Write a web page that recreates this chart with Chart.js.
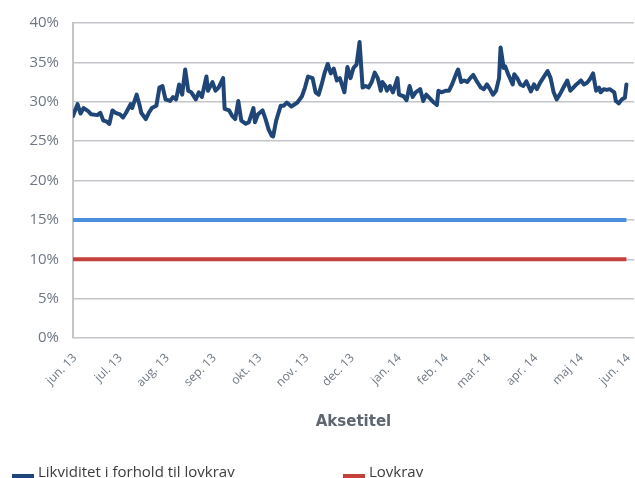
<!DOCTYPE html>
<html>
<head>
<meta charset="utf-8">
<script src="https://cdn.jsdelivr.net/npm/chart.js@4/dist/chart.umd.min.js"></script>
<style>
  html, body { margin: 0; padding: 0; background: #fff; overflow: hidden; }
  #wrap { position: relative; width: 635px; height: 478px; }
  #legend { position: absolute; left: 0; top: 461px; width: 635px; height: 20px; }
  .lg-item { position: absolute; top: 0; height: 20px; font-family: "Open Sans", sans-serif;
             font-size: 15px; line-height: 20px; color: #3d3d3d; white-space: nowrap; }
  .lg-mark { position: absolute; left: 0; top: 13px; width: 22px; height: 4px; }
  .lg-text { position: absolute; left: 26px; top: 0; }
</style>
</head>
<body>
<div id="wrap">
  <canvas id="c" width="635" height="478"></canvas>
  <div id="legend"></div>
</div>
<script>
// ---- data ----
const seriesNames = ['Likviditet i forhold til lovkrav', 'Lovkrav', 'Intern grænse'];
const monthLabels = ['jun. 13','jul. 13','aug. 13','sep. 13','okt. 13','nov. 13','dec. 13',
                     'jan. 14','feb. 14','mar. 14','apr. 14','maj 14','jun. 14'];
const monthTickDays = [0,30,61,92,122,153,183,214,245,273,304,334,365];
// days since 1 June 2013
const dayOffsets = [0,3,5,7,10,12,16,18,20,22,24,26,28,31,33,35,38,39,42,44,45,48,50,52,55,57,59,61,64,66,
  68,70,72,74,76,78,81,83,85,88,89,92,94,96,99,100,103,105,107,109,111,114,116,119,120,122,125,127,129,131,
  132,134,137,139,141,144,148,151,153,155,158,160,162,164,166,168,
  170,172,174,176,179,181,183,185,187,189,191,193,195,197,199,201,203,204,206,207,209,211,214,215,218,220,
  222,224,226,229,231,233,236,238,240,241,243,246,248,250,253,254,256,258,260,262,264,266,269,271,273,275,
  277,279,281,282,284,285,287,290,291,293,295,297,299,302,304,306,308,310,313,315,317,319,321,324,326,328,
  330,332,335,337,339,341,343,345,347,348,350,352,354,357,358,360,362,364,365];
const liquidityPct = [28.2,29.7,28.5,29.2,28.8,28.4,28.3,28.6,27.6,27.5,27.2,28.9,28.6,28.4,28.0,28.6,29.7,29.2,
  30.9,29.5,28.6,27.8,28.6,29.2,29.5,31.8,32.0,30.3,30.1,30.6,30.3,32.2,30.9,34.1,31.4,31.2,30.3,31.2,30.6,33.2,
  31.4,32.5,31.4,31.8,33.0,29.1,28.9,28.2,27.8,30.1,27.6,27.2,27.4,29.2,27.4,28.4,28.9,27.8,26.5,25.7,25.6,27.6,
  29.5,29.5,29.9,29.4,29.9,30.7,31.8,33.2,33.0,31.2,30.9,32.2,33.7,34.8,
  33.6,34.2,32.7,33.0,31.2,34.4,33.0,34.3,34.7,37.6,31.8,32.0,31.8,32.5,33.7,33.0,31.4,32.5,32.0,31.4,
  32.0,31.2,33.0,30.9,30.7,30.2,32.0,30.6,31.2,31.6,30.1,30.9,30.3,29.9,29.6,31.4,31.2,31.4,31.4,32.2,
  33.7,34.1,32.5,32.7,32.5,33.0,33.4,32.7,31.8,31.6,32.2,31.6,30.9,31.4,33.0,36.9,34.3,34.5,33.5,32.2,
  33.5,33.0,32.2,32.0,32.6,31.3,32.2,31.6,32.4,33.0,33.9,33.0,31.2,30.3,30.9,32.0,32.7,31.4,31.8,32.2,
  32.7,32.2,32.4,32.9,33.6,31.4,31.8,31.2,31.6,31.5,31.6,31.2,30.1,29.8,30.3,30.5,32.2];
const lovkravPct = [10, 10];
const internPct = [15, 15];
const yTicks = [0,5,10,15,20,25,30,35,40];
const legendSeries = [0, 1];

// ---- build chart ----
const colors = ['#1f4677', '#c4413c', '#4a8fdb'];
const ends = [dayOffsets[0], dayOffsets[dayOffsets.length - 1]];

const htmlLegend = {
  id: 'htmlLegend',
  afterUpdate(chart) {
    const box = document.getElementById('legend');
    box.innerHTML = '';
    const lefts = [12, 343];
    legendSeries.forEach((di, k) => {
      const ds = chart.data.datasets[di];
      const item = document.createElement('div');
      item.className = 'lg-item';
      item.style.left = lefts[k] + 'px';
      const m = document.createElement('span');
      m.className = 'lg-mark';
      m.style.background = ds.borderColor;
      const t = document.createElement('span');
      t.className = 'lg-text';
      t.textContent = ds.label;
      item.appendChild(m); item.appendChild(t);
      box.appendChild(item);
    });
  }
};

new Chart(document.getElementById('c'), {
  type: 'line',
  data: {
    datasets: [
      { label: seriesNames[0], data: dayOffsets.map((d, i) => ({x: d, y: liquidityPct[i]})),
        borderColor: colors[0], backgroundColor: colors[0], borderWidth: 4, pointRadius: 0,
        tension: 0, borderJoinStyle: 'round', borderCapStyle: 'round' },
      { label: seriesNames[1], data: ends.map((d, i) => ({x: d, y: lovkravPct[i]})),
        borderColor: colors[1], backgroundColor: colors[1], borderWidth: 4, pointRadius: 0 },
      { label: seriesNames[2], data: ends.map((d, i) => ({x: d, y: internPct[i]})),
        borderColor: colors[2], backgroundColor: colors[2], borderWidth: 4, pointRadius: 0 }
    ]
  },
  options: {
    responsive: false,
    animation: false,
    events: [],
    layout: { padding: { left: 0, right: 1, top: 20, bottom: 47 } },
    plugins: { legend: { display: false }, tooltip: { enabled: false } },
    scales: {
      x: {
        type: 'linear', min: 0, max: 370,
        afterBuildTicks(scale) { scale.ticks = monthTickDays.map(v => ({ value: v })); },
        afterFit(scale) { scale.height = 93; scale.paddingLeft = 0; scale.paddingRight = 0; },
        ticks: {
          autoSkip: false, minRotation: 45, maxRotation: 45, padding: 13, labelOffset: 2,
          color: '#6e7782', font: { family: 'Open Sans', size: 12 },
          callback: (v, i) => monthLabels[i]
        },
        grid: { display: false, drawTicks: false },
        border: { display: false },
        title: { display: true, text: 'Aksetitel', color: '#5e6670',
                 font: { family: 'DejaVu Sans', size: 15, weight: 'bold' }, padding: { top: 0, bottom: 0 } }
      },
      y: {
        min: 0, max: 40,
        afterBuildTicks(scale) { scale.ticks = yTicks.map(v => ({ value: v })); },
        afterFit(scale) { scale.width = 73; },
        ticks: { padding: 14, color: '#6e7782', font: { family: 'Open Sans', size: 15 },
                 callback: v => v + '%' },
        grid: { color: '#c2c6ca', lineWidth: 1.5, drawTicks: false },
        border: { display: true, color: '#c2c6ca', width: 2 }
      }
    }
  },
  plugins: [htmlLegend]
});
</script>
</body>
</html>
